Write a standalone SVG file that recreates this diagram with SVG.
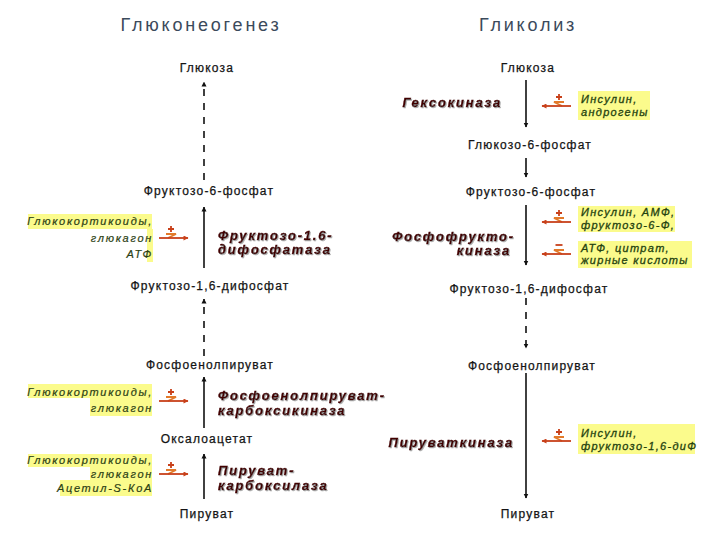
<svg xmlns="http://www.w3.org/2000/svg" width="720" height="540" viewBox="0 0 720 540">
<style>
.title{font-family:"Liberation Sans",Arial,sans-serif;font-size:18px;fill:#3b4a5b;text-anchor:middle;letter-spacing:2.8px}
.met{font-family:"Liberation Sans",Arial,sans-serif;font-size:12px;fill:#141414;stroke:#141414;stroke-width:0.25;text-anchor:middle;letter-spacing:1.2px}
.enz{font-family:"Liberation Sans",Arial,sans-serif;font-size:13px;font-weight:bold;font-style:italic;fill:#420404;stroke:#420404;stroke-width:0.4;letter-spacing:1.8px;filter:url(#sh)}
.regL{font-family:"Liberation Sans",Arial,sans-serif;font-size:11px;font-style:italic;fill:#2c3f14;stroke:#2c3f14;stroke-width:0.2;text-anchor:end;letter-spacing:1.7px}
.regR{font-family:"Liberation Sans",Arial,sans-serif;font-size:11px;font-style:italic;fill:#24420f;stroke:#24420f;stroke-width:0.3;letter-spacing:1.3px}
.hl{fill:#fbfb8c}
.ln{stroke:#111;stroke-width:1.6;fill:none;marker-end:url(#ah)}
.dash{stroke-dasharray:7,7}
.sy1{stroke:#e27a2a;stroke-width:1.8;fill:none}
.sy2{stroke:#c8401a;stroke-width:1.8;fill:none}
</style>
<defs>
<marker id="ah" viewBox="0 0 10 10" refX="9" refY="5" markerWidth="5" markerHeight="6" orient="auto" markerUnits="userSpaceOnUse">
<path d="M0,0 L10,5 L0,10 z" fill="#111"/>
</marker>
<marker id="oh" viewBox="0 0 10 10" refX="9" refY="5" markerWidth="6" markerHeight="5" orient="auto" markerUnits="userSpaceOnUse">
<path d="M0,0 L10,5 L0,10 z" fill="#c8401a"/>
</marker>
<filter id="sh" x="-5%" y="-20%" width="110%" height="150%">
<feDropShadow dx="1" dy="1" stdDeviation="0.6" flood-color="#999" flood-opacity="0.8"/>
</filter>
<g id="act">
<path class="sy2" d="M-3,0 H3 M0,-3 V3"/>
<path class="sy1" d="M-5,5 H5 L-3,9"/>
<path class="sy2" d="M-12,9 H17" marker-end="url(#oh)"/>
</g>
<g id="inh">
<path class="sy2" d="M-3.5,0 H3.5"/>
<path class="sy1" d="M-5,5 H5 L-3,9"/>
<path class="sy2" d="M-12,9 H17" marker-end="url(#oh)"/>
</g>
</defs>
<rect width="720" height="540" fill="#fff"/>

<g id="titles">
<text class="title" x="201" y="31">Глюконеогенез</text>
<text class="title" x="528" y="31">Гликолиз</text>
</g>

<g id="connectors">
<path class="ln dash" d="M204,180 V82"/>
<path class="ln" d="M204,268 V207"/>
<path class="ln dash" d="M204,356 V299"/>
<path class="ln" d="M204,428 V377"/>
<path class="ln" d="M204,499 V454"/>
<path class="ln" d="M526,80 V127"/>
<path class="ln" d="M526,158 V177"/>
<path class="ln" d="M526,205 V265"/>
<path class="ln dash" d="M526,298 V348"/>
<path class="ln" d="M526,373 V498"/>
</g>

<g id="left-metabolites">
<g id="l-glucose"><text class="met" x="207" y="72">Глюкоза</text></g>
<g id="l-f6p"><text class="met" x="209" y="195">Фруктозо-6-фосфат</text></g>
<g id="l-f16"><text class="met" x="210" y="290">Фруктозо-1,6-дифосфат</text></g>
<g id="l-pep"><text class="met" x="210" y="369">Фосфоенолпируват</text></g>
<g id="l-oaa"><text class="met" x="207" y="443">Оксалоацетат</text></g>
<g id="l-pyr"><text class="met" x="207" y="518">Пируват</text></g>
</g>

<g id="left-enzymes">
<g id="e-fbpase"><text class="enz" x="218" y="240">Фруктозо-1.6-</text><text class="enz" x="218" y="254">дифосфатаза</text></g>
<g id="e-pepck"><text class="enz" x="218" y="400">Фосфоенолпируват-</text><text class="enz" x="218" y="415">карбоксикиназа</text></g>
<g id="e-pc"><text class="enz" x="218" y="475">Пируват-</text><text class="enz" x="218" y="490">карбоксилаза</text></g>
</g>

<g id="left-regulators">
<g id="r-l1">
<rect class="hl" x="28" y="214" width="124" height="15"/>
<rect class="hl" x="147" y="229" width="6" height="33"/>
<text class="regL" x="153" y="225">Глюкокортикоиды,</text>
<text class="regL" x="153" y="242">глюкагон</text>
<text class="regL" x="153" y="258">АТФ</text>
<use href="#act" transform="translate(171,229)"/>
</g>
<g id="r-l2">
<rect class="hl" x="28" y="384" width="124" height="14"/>
<rect class="hl" x="90" y="398" width="62" height="18"/>
<text class="regL" x="153" y="396">Глюкокортикоиды,</text>
<text class="regL" x="153" y="412">глюкагон</text>
<use href="#act" transform="translate(171,392)"/>
</g>
<g id="r-l3">
<rect class="hl" x="28" y="454" width="124" height="13"/>
<rect class="hl" x="90" y="467" width="62" height="13"/>
<rect class="hl" x="60" y="480" width="92" height="16"/>
<text class="regL" x="153" y="464">Глюкокортикоиды,</text>
<text class="regL" x="153" y="478">глюкагон</text>
<text class="regL" x="153" y="492">Ацетил-S-КоА</text>
<use href="#act" transform="translate(171,465)"/>
</g>
</g>

<g id="right-metabolites">
<g id="r-glucose"><text class="met" x="528" y="72">Глюкоза</text></g>
<g id="r-g6p"><text class="met" x="530" y="149">Глюкозо-6-фосфат</text></g>
<g id="r-f6p"><text class="met" x="531" y="196">Фруктозо-6-фосфат</text></g>
<g id="r-f16"><text class="met" x="529" y="293">Фруктозо-1,6-дифосфат</text></g>
<g id="r-pep"><text class="met" x="532" y="370">Фосфоенолпируват</text></g>
<g id="r-pyr"><text class="met" x="528" y="518">Пируват</text></g>
</g>

<g id="right-enzymes">
<g id="e-hk"><text class="enz" x="502" y="107" text-anchor="end">Гексокиназа</text></g>
<g id="e-pfk"><text class="enz" x="515" y="241" text-anchor="end">Фосфофрукто-</text><text class="enz" x="511" y="255" text-anchor="end">киназа</text></g>
<g id="e-pk"><text class="enz" x="514" y="447" text-anchor="end">Пируваткиназа</text></g>
</g>

<g id="right-regulators">
<g id="r-r1">
<rect class="hl" x="578" y="91" width="72" height="29"/>
<text class="regR" x="581" y="103">Инсулин,</text>
<text class="regR" x="581" y="116">андрогены</text>
<use href="#act" transform="translate(559,97) scale(-1,1)"/>
</g>
<g id="r-r2">
<rect class="hl" x="578" y="206" width="97" height="26"/>
<text class="regR" x="581" y="216">Инсулин, АМФ,</text>
<text class="regR" x="581" y="229">фруктозо-6-Ф,</text>
<use href="#act" transform="translate(559,213) scale(-1,1)"/>
</g>
<g id="r-r3">
<rect class="hl" x="578" y="241" width="114" height="27"/>
<text class="regR" x="581" y="252">АТФ, цитрат,</text>
<text class="regR" x="581" y="264">жирные кислоты</text>
<use href="#inh" transform="translate(559,245) scale(-1,1)"/>
</g>
<g id="r-r4">
<rect class="hl" x="578" y="424" width="117" height="30"/>
<text class="regR" x="581" y="437">Инсулин,</text>
<text class="regR" x="581" y="450">фруктозо-1,6-диФ</text>
<use href="#act" transform="translate(559,432) scale(-1,1)"/>
</g>
</g>
</svg>
